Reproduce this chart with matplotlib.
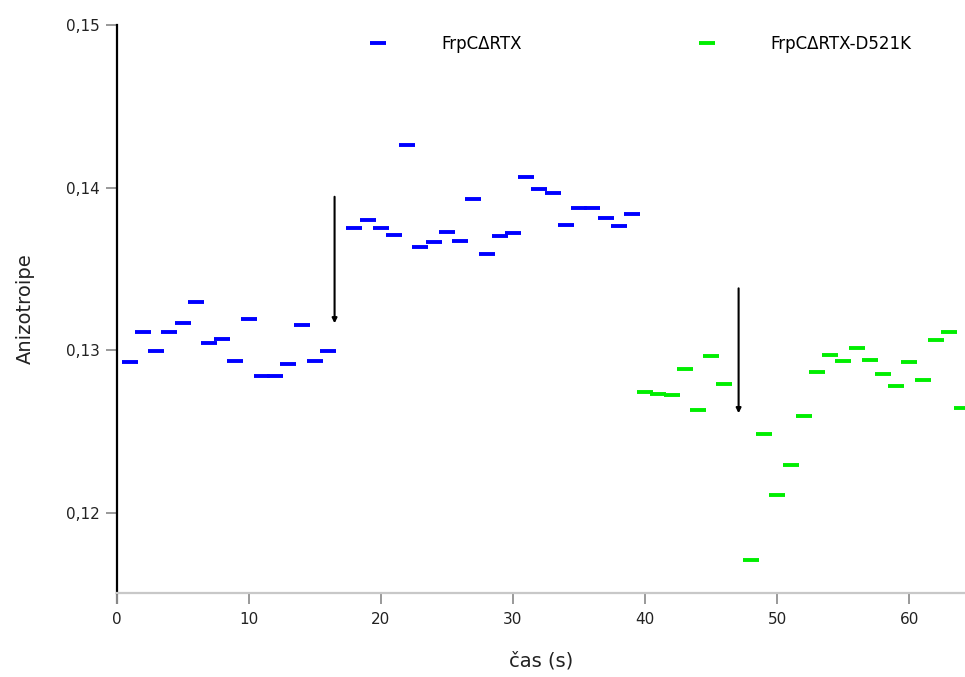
import matplotlib
matplotlib.use("Agg")
import matplotlib.pyplot as plt
from matplotlib.ticker import FuncFormatter

# ---- data ----
t_wt = [1, 2, 3, 4, 5, 6, 7, 8, 9, 10, 11, 12, 13, 14, 15, 16,
        18, 19, 20, 21, 22, 23, 24, 25, 26, 27, 28, 29, 30, 31, 32, 33,
        34, 35, 36, 37, 38, 39]
a_wt = [0.12926, 0.13115, 0.12998, 0.13115, 0.13170, 0.13299, 0.13045, 0.13072,
        0.12933, 0.13193, 0.12840, 0.12840, 0.12914, 0.13154, 0.12933, 0.12998,
        0.13754, 0.13801, 0.13754, 0.13709, 0.14262, 0.13637, 0.13664, 0.13726,
        0.13670, 0.13928, 0.13590, 0.13705, 0.13721, 0.14064, 0.13992, 0.13967,
        0.13769, 0.13873, 0.13873, 0.13812, 0.13763, 0.13836]

t_mut = [40, 41, 42, 43, 44, 45, 46,
         48, 49, 50, 51, 52, 53, 54, 55, 56, 57, 58, 59, 60, 61, 62, 63, 64]
a_mut = [0.12744, 0.12733, 0.12725, 0.12883, 0.12635, 0.12965, 0.12793,
         0.11711, 0.12484, 0.12113, 0.12293, 0.12598, 0.12869, 0.12973,
         0.12933, 0.13016, 0.12941, 0.12853, 0.12783, 0.12926, 0.12820,
         0.13062, 0.13115, 0.12647]

labels = ["FrpC\u0394RTX", "FrpC\u0394RTX-D521K"]
colors = ["#0000FF", "#00EE00"]

arrow_x = [16.5, 47.07]
arrow_top = [0.13944, 0.13381]
arrow_bottom = [0.13166, 0.12613]

yticks = [0.12, 0.13, 0.14, 0.15]
xticks = [0, 10, 20, 30, 40, 50, 60]

# ---- figure ----
fig = plt.figure(figsize=(9.65, 6.77), dpi=100)
ax = fig.add_axes([116.5 / 965, 1 - 593 / 677, 1 - 116.5 / 965, (593 - 25) / 677])

ax.plot(t_wt, a_wt, linestyle="none", marker="_", markersize=11.5,
        markeredgewidth=2.8, color=colors[0], label=labels[0])
ax.plot(t_mut, a_mut, linestyle="none", marker="_", markersize=11.5,
        markeredgewidth=2.8, color=colors[1], label=labels[1])

for x, yt, yb in zip(arrow_x, arrow_top, arrow_bottom):
    ax.annotate("", xy=(x, yb), xytext=(x, yt),
                arrowprops=dict(arrowstyle="-|>", color="black", lw=1.5,
                                mutation_scale=7, shrinkA=0, shrinkB=0))

ax.set_xlim(0, 64.2)
ax.set_ylim(0.11508, 0.15)
ax.set_xticks(xticks)
ax.set_yticks(yticks)
ax.yaxis.set_major_formatter(FuncFormatter(lambda v, p: f"{v:.2f}".replace(".", ",")))

for s in ["top", "right"]:
    ax.spines[s].set_visible(False)
ax.spines["left"].set_color("black")
ax.spines["left"].set_linewidth(1.6)
ax.spines["bottom"].set_color("#c8c8c8")
ax.spines["bottom"].set_linewidth(1.6)

ax.tick_params(axis="both", direction="out", length=8, width=1.2,
               colors="#888888", labelcolor="#222222", labelsize=11)
ax.tick_params(axis="y", pad=4)
ax.tick_params(axis="x", pad=6)

# the x tick at 0 continues the black left spine
first_tick = ax.xaxis.get_major_ticks()[0]
first_tick.tick1line.set_color("black")
first_tick.tick1line.set_markeredgewidth(1.6)

ax.set_ylabel("Anizotroipe", fontsize=14, color="#222222")
ax.yaxis.set_label_coords(-0.108, 0.5)
ax.yaxis.label.set_verticalalignment("center")
ax.set_xlabel("\u010das (s)", fontsize=14, color="#222222")
ax.xaxis.set_label_coords(0.5, -0.12)
ax.xaxis.label.set_verticalalignment("center")

leg = ax.legend(loc="center", bbox_to_anchor=((640 - 116.5) / 848.5, (593 - 44) / 568),
                ncol=2, frameon=False, fontsize=12, handlelength=1.2,
                handletextpad=3.2, columnspacing=10.5, markerscale=1.0)

fig.savefig("out.png", dpi=100)
